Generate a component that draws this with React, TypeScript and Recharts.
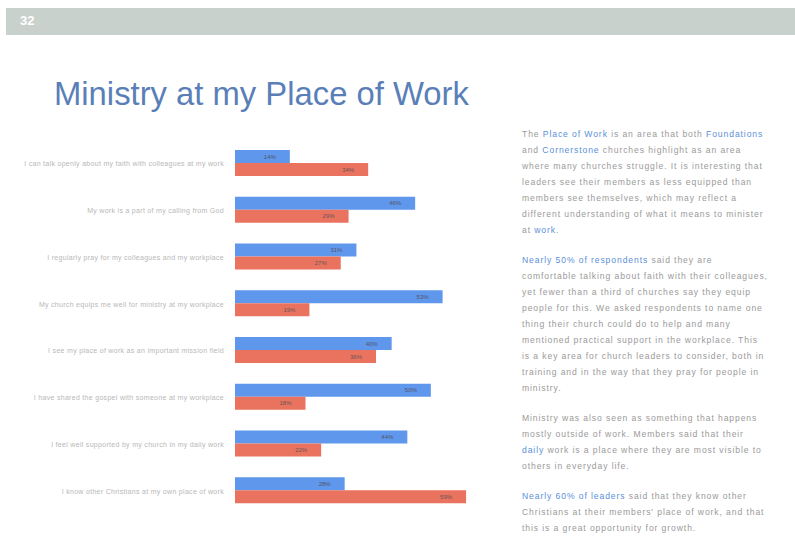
import React from "react";
import { BarChart, Bar, XAxis, YAxis, LabelList } from "recharts";

// survey statements (left axis labels)
const statements = [
  "I can talk openly about my faith with colleagues at my work",
  "My work is a part of my calling from God",
  "I regularly pray for my colleagues and my workplace",
  "My church equips me well for ministry at my workplace",
  "I see my place of work as an important mission field",
  "I have shared the gospel with someone at my workplace",
  "I feel well supported by my church in my daily work",
  "I know other Christians at my own place of work",
];

// % values
const blueValues = [14, 46, 31, 53, 40, 50, 44, 28];
const redValues = [34, 29, 27, 19, 36, 18, 22, 59];

const seriesNames = ["Leaders", "Members"];
const xTicks = [0, 20, 40, 60];

const chartData = statements.map((s, i) => ({
  name: s,
  blue: blueValues[i],
  red: redValues[i],
}));

const pct = (v: any) => `${v}%`;

const grey = "#9a9a9a";
const blueText = "#5b8fd8";

// one-line tick, right aligned against the bars
const StatementTick = (props: any) => {
  const { x, y, payload } = props;
  return (
    <text x={x - 3} y={y} dy={3} textAnchor="end" fontSize={7} fill="#b8b8b8" letterSpacing={0.3}>
      {payload.value}
    </text>
  );
};

export default function App() {
  return (
    <div
      style={{
        position: "absolute",
        left: 0,
        top: 0,
        width: 795,
        height: 544,
        background: "#fff",
        fontFamily: "Arial, 'Liberation Sans', sans-serif",
        overflow: "hidden",
      }}
    >
      {/* header strip */}
      <div
        style={{
          position: "absolute",
          left: 6,
          top: 8,
          width: 789,
          height: 27,
          background: "#c9d1cd",
        }}
      />
      <div
        style={{
          position: "absolute",
          left: 20,
          top: 13,
          color: "#fff",
          fontWeight: "bold",
          fontSize: 13,
        }}
      >
        32
      </div>

      <div
        style={{
          position: "absolute",
          left: 54,
          top: 75,
          color: "#5a7fb8",
          fontSize: 32.8,
          whiteSpace: "nowrap",
        }}
      >
        Ministry at my Place of Work
      </div>

      <div style={{ position: "absolute", left: 0, top: 140 }}>
        <BarChart
          width={480}
          height={374}
          data={chartData}
          layout="vertical"
          margin={{ top: 0, right: 10, bottom: 0, left: 0 }}
          barGap={0}
          barCategoryGap={10}
        >
          <XAxis type="number" domain={[0, 60]} ticks={xTicks} hide />
          <YAxis
            type="category"
            dataKey="name"
            width={235}
            axisLine={false}
            tickLine={false}
            interval={0}
            tick={<StatementTick />}
          />
          <Bar dataKey="blue" name={seriesNames[0]} fill="#5e97ec" isAnimationActive={false}>
            <LabelList dataKey="blue" position="insideRight" formatter={pct} fontSize={6} fill="#556" offset={14} />
          </Bar>
          <Bar dataKey="red" name={seriesNames[1]} fill="#ea735f" isAnimationActive={false}>
            <LabelList dataKey="red" position="insideRight" formatter={pct} fontSize={6} fill="#655" offset={14} />
          </Bar>
        </BarChart>
      </div>

      <div
        style={{
          position: "absolute",
          left: 522,
          top: 126,
          width: 246,
          fontSize: 8.6,
          lineHeight: "16px",
          letterSpacing: "0.9px",
          color: grey,
        }}
      >
        <p style={{ margin: "0 0 14px 0" }}>
          The <span style={{ color: blueText }}>Place of Work</span> is an area that both{" "}
          <span style={{ color: blueText }}>Foundations</span> and{" "}
          <span style={{ color: blueText }}>Cornerstone</span> churches
          highlight as an area where many churches struggle. It is
          interesting that leaders see their members as less
          equipped than members see themselves, which may reflect a
          different understanding of what it means to minister
          at <span style={{ color: blueText }}>work</span>.
        </p>
        <p style={{ margin: "0 0 14px 0" }}>
          <span style={{ color: blueText }}>Nearly 50% of respondents</span> said they are
          comfortable talking about faith with their
          colleagues, yet fewer than a third of churches say
          they equip people for this. We asked respondents
          to name one thing their church could do to help and
          many mentioned practical support in the workplace.
          This is a key area for church leaders to consider,
          both in training and in the way that they pray for
          people in ministry.
        </p>
        <p style={{ margin: "0 0 14px 0" }}>
          Ministry was also seen as something that happens
          mostly outside of work. Members said that their{" "}
          <span style={{ color: blueText }}>daily</span> work is a place where they
          are most visible to others in everyday life.
        </p>
        <p style={{ margin: 0 }}>
          <span style={{ color: blueText }}>Nearly 60% of leaders</span> said that they
          know other Christians at their members' place of
          work, and that this is a great opportunity for growth.
        </p>
      </div>
    </div>
  );
}
